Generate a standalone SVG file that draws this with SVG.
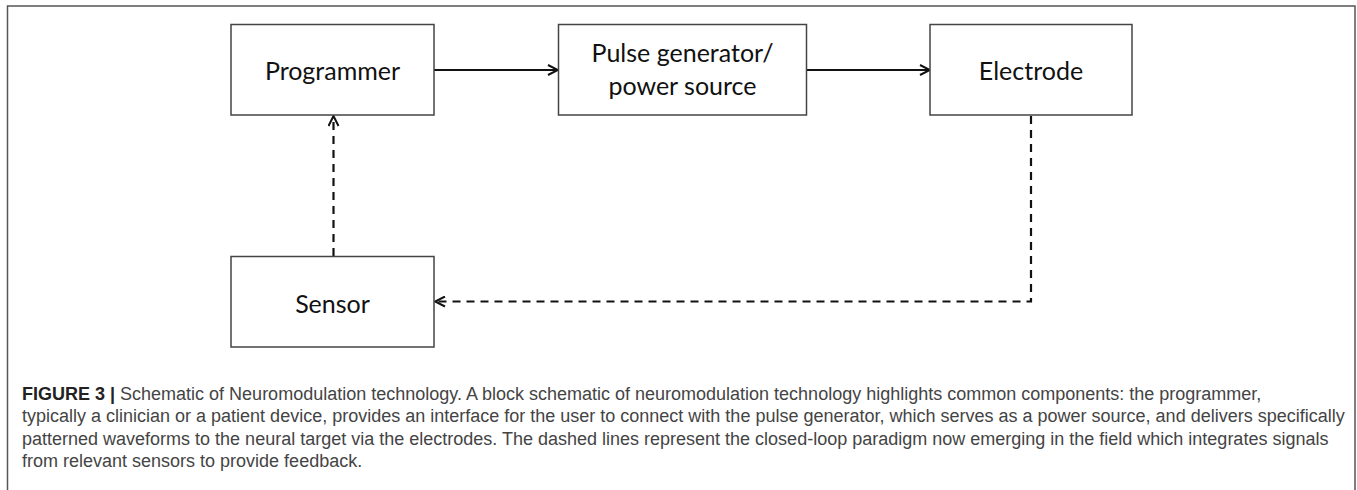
<svg xmlns="http://www.w3.org/2000/svg" width="1357" height="490" viewBox="0 0 1357 490">
  <defs>
    <marker id="open" viewBox="0 0 12 12" refX="11" refY="6" markerWidth="12" markerHeight="12" markerUnits="userSpaceOnUse" orient="auto">
      <path d="M1,1 L11,6 L1,11" fill="none" stroke="#111" stroke-width="2"/>
    </marker>
  </defs>
  <style>
    .frame{fill:none;stroke:#555;stroke-width:1.5}
    .box{fill:#fff;stroke:#444;stroke-width:1.5}
    .lbl{font-family:Lato,"Open Sans",sans-serif;font-size:25px;fill:#111;text-anchor:middle}
    .solid{fill:none;stroke:#111;stroke-width:2}
    .dash{fill:none;stroke:#111;stroke-width:2.2;stroke-dasharray:8 6}
    .cap{font-family:"Liberation Sans",Arial,sans-serif;font-size:18px;fill:#444}
    .capb{font-weight:bold;fill:#222}
  </style>
  <rect width="1357" height="490" fill="#fff"/>
  <path class="frame" d="M7.5,492 L7.5,6 L1355,6 L1355,492"/>

  <g id="connectors">
    <line class="solid" x1="434" y1="70" x2="558" y2="70" marker-end="url(#open)"/>
    <line class="solid" x1="807" y1="70" x2="930" y2="70" marker-end="url(#open)"/>
    <line class="dash" x1="333.5" y1="256" x2="333.5" y2="116" marker-end="url(#open)"/>
    <polyline class="dash" points="1031,116 1031,301.5 435,301.5" marker-end="url(#open)"/>
  </g>

  <g id="programmer">
    <rect class="box" x="231" y="24.5" width="203" height="90.5"/>
    <text class="lbl" x="332.5" y="80">Programmer</text>
  </g>
  <g id="pulse-generator">
    <rect class="box" x="558.5" y="24.5" width="248" height="90.5"/>
    <text class="lbl" x="682.5" y="62">Pulse generator/</text>
    <text class="lbl" x="682.5" y="95">power source</text>
  </g>
  <g id="electrode">
    <rect class="box" x="930" y="24.5" width="202" height="90.5"/>
    <text class="lbl" x="1031" y="80">Electrode</text>
  </g>
  <g id="sensor">
    <rect class="box" x="231" y="256.5" width="203" height="90.5"/>
    <text class="lbl" x="332.5" y="313">Sensor</text>
  </g>

  <g id="caption" class="cap">
    <text x="22" y="399.5"><tspan class="capb">FIGURE 3 |</tspan> Schematic of Neuromodulation technology. A block schematic of neuromodulation technology highlights common components: the programmer,</text>
    <text x="22" y="422">typically a clinician or a patient device, provides an interface for the user to connect with the pulse generator, which serves as a power source, and delivers specifically</text>
    <text x="22" y="444.5">patterned waveforms to the neural target via the electrodes. The dashed lines represent the closed-loop paradigm now emerging in the field which integrates signals</text>
    <text x="22" y="467">from relevant sensors to provide feedback.</text>
  </g>
</svg>
